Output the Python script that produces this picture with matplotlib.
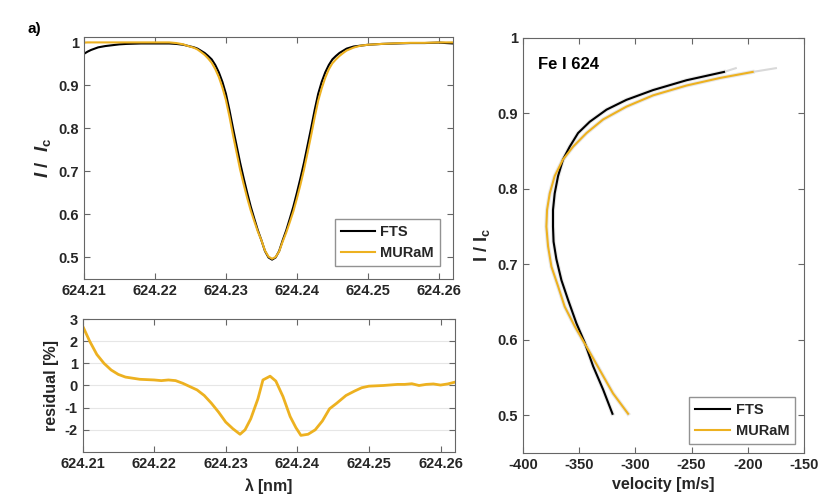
import numpy as np
import matplotlib
matplotlib.use("Agg")
import matplotlib.pyplot as plt
from matplotlib.ticker import FuncFormatter

plt.rcParams['font.family'] = ['Liberation Sans', 'DejaVu Sans']
plt.rcParams['font.weight'] = 'bold'
plt.rcParams['axes.labelweight'] = 'bold'
plt.rcParams['axes.unicode_minus'] = False
plt.rcParams['mathtext.fontset'] = 'custom'
plt.rcParams['mathtext.it'] = 'Liberation Sans:italic:bold'
plt.rcParams['mathtext.rm'] = 'Liberation Sans:bold'
plt.rcParams['mathtext.bf'] = 'Liberation Sans:bold'

# --- spectral line profile (normalised intensity) ---
wavelength = [624.210, 624.2105, 624.211, 624.2115, 624.212, 624.213, 624.214,
              624.215, 624.216, 624.217, 624.218, 624.220, 624.222, 624.223,
              624.224, 624.2245, 624.225, 624.2255, 624.226, 624.2265, 624.227,
              624.2275, 624.228, 624.2285, 624.229, 624.2295, 624.230, 624.2305,
              624.231, 624.2315, 624.232, 624.2325, 624.233, 624.2335, 624.234,
              624.2345, 624.235, 624.2355, 624.236, 624.2365, 624.237, 624.2375,
              624.238, 624.2385, 624.239, 624.2395, 624.240, 624.2405, 624.241,
              624.2415, 624.242, 624.2425, 624.243, 624.2435, 624.244, 624.2445,
              624.245, 624.2455, 624.246, 624.2465, 624.247, 624.248, 624.249,
              624.250, 624.252, 624.254, 624.256, 624.258, 624.260, 624.262]
fts_int = [0.973, 0.978, 0.982, 0.985, 0.988, 0.991, 0.993,
           0.995, 0.996, 0.9965, 0.997, 0.997, 0.997, 0.996,
           0.994, 0.992, 0.990, 0.988, 0.985, 0.980, 0.975,
           0.968, 0.960, 0.947, 0.930, 0.908, 0.880, 0.842,
           0.800, 0.760, 0.720, 0.684, 0.650, 0.618, 0.590,
           0.563, 0.540, 0.515, 0.500, 0.495, 0.500, 0.515,
           0.540, 0.563, 0.590, 0.618, 0.650, 0.684, 0.720,
           0.760, 0.800, 0.842, 0.880, 0.908, 0.930, 0.947,
           0.960, 0.968, 0.975, 0.980, 0.985, 0.990, 0.992,
           0.994, 0.996, 0.997, 0.998, 0.998, 0.999, 0.997]
muram_int = [0.999, 0.9995, 0.9995, 0.9995, 0.9995, 0.9995, 0.9995,
             0.9995, 0.9995, 0.9995, 0.9995, 0.9995, 0.9995, 0.998,
             0.995, 0.992, 0.9895, 0.987, 0.983, 0.977, 0.9706,
             0.962, 0.952, 0.9375, 0.919, 0.895, 0.8655, 0.827,
             0.784, 0.744, 0.704, 0.670, 0.638, 0.609, 0.584,
             0.560, 0.540, 0.516, 0.502, 0.497, 0.501, 0.514,
             0.537, 0.558, 0.582, 0.607, 0.637, 0.669, 0.704,
             0.743, 0.783, 0.825, 0.864, 0.893, 0.9175, 0.937,
             0.951, 0.960, 0.968, 0.9746, 0.9806, 0.9875, 0.992,
             0.994, 0.996, 0.9975, 0.9985, 0.9985, 0.9995, 0.9995]

# --- residual [%] ---
res_wl = [624.210, 624.211, 624.212, 624.213, 624.214, 624.215, 624.216,
          624.218, 624.220, 624.221, 624.222, 624.223, 624.224, 624.225,
          624.226, 624.227, 624.228, 624.229, 624.230, 624.231, 624.232,
          624.2327, 624.2335, 624.2345, 624.2352, 624.2362, 624.237,
          624.238, 624.239, 624.2398, 624.2405, 624.2415, 624.2425,
          624.2435, 624.2445, 624.2455, 624.2468, 624.248, 624.249,
          624.250, 624.252, 624.254, 624.255, 624.256, 624.257, 624.258,
          624.259, 624.260, 624.261, 624.262]
residual = [2.7, 2.0, 1.4, 1.0, 0.7, 0.5, 0.38,
            0.28, 0.25, 0.22, 0.25, 0.22, 0.1, -0.05,
            -0.2, -0.45, -0.8, -1.2, -1.65, -1.95, -2.2,
            -2.0, -1.5, -0.6, 0.25, 0.42, 0.2,
            -0.5, -1.4, -1.9, -2.25, -2.2, -2.0,
            -1.6, -1.05, -0.8, -0.45, -0.25, -0.1,
            -0.03, 0.0, 0.05, 0.05, 0.08, 0.0, 0.05,
            0.07, 0.02, 0.07, 0.15]

# --- line bisectors ---
fts_vel = [-320.4, -328.7, -337.6, -345.0, -352.5, -359.9, -365.8, -370.3,
           -372.8, -373.3, -373.3, -371.8, -368.8, -364.4, -358.4, -351.0,
           -340.6, -325.7, -308.0, -284.2, -254.5, -221.2]
fts_lev = [0.502, 0.534, 0.565, 0.596, 0.622, 0.653, 0.679, 0.707,
           0.730, 0.750, 0.772, 0.794, 0.817, 0.839, 0.856, 0.874,
           0.889, 0.905, 0.918, 0.931, 0.944, 0.955]
muram_vel = [-306.5, -319.9, -331.7, -343.5, -354.0, -362.9, -368.8, -374.7,
             -377.7, -379.2, -378.6, -376.2, -371.8, -364.4, -355.4, -343.5,
             -328.7, -308.0, -284.2, -254.5, -224.8, -195.7]
muram_lev = [0.502, 0.529, 0.560, 0.591, 0.618, 0.644, 0.671, 0.697,
             0.724, 0.750, 0.772, 0.794, 0.817, 0.839, 0.856, 0.874,
             0.892, 0.909, 0.924, 0.937, 0.947, 0.955]
fts_tail_vel = [-221.2, -210.7]
fts_tail_lev = [0.955, 0.960]
muram_tail_vel = [-195.7, -175.0]
muram_tail_lev = [0.955, 0.960]

wl_ticks = [624.21, 624.22, 624.23, 624.24, 624.25, 624.26]

gold = '#EDB120'
txt = '#262626'
spine = '#666666'


def style(ax):
    for s in ax.spines.values():
        s.set_color(spine)
        s.set_linewidth(0.8)
    ax.tick_params(direction='in', top=True, right=True, colors=spine,
                   labelcolor=txt, labelsize=10.5, length=4, width=0.8)


def clean(v, pos):
    return ('%g' % v)


fig = plt.figure(figsize=(8.3, 5.03), dpi=100)

# top-left: profiles
ax1 = fig.add_axes([0.1012, 0.4453, 0.4446, 0.4811])
ax1.plot(wavelength, fts_int, color='k', lw=1.5, label='FTS')
ax1.plot(wavelength, muram_int, color=gold, lw=1.5, label='MURaM')
ax1.set_xlim(624.21, 624.262)
ax1.set_ylim(0.45, 1.012)
ax1.set_xticks(wl_ticks)
ax1.set_xticklabels(['%.2f' % t for t in wl_ticks])
ax1.set_yticks([0.5, 0.6, 0.7, 0.8, 0.9, 1.0])
ax1.yaxis.set_major_formatter(FuncFormatter(clean))
ax1.set_ylabel(r'$\it{I}$ /  $\it{I}_{\rm c}$', fontsize=13.5, color=txt)
style(ax1)
leg = ax1.legend(loc='lower right', fontsize=10.5, fancybox=False,
                 edgecolor='#777777', handlelength=2.3, handletextpad=0.4,
                 borderaxespad=0.9)
for t in leg.get_texts():
    t.set_color(txt)

# bottom-left: residual
ax2 = fig.add_axes([0.0994, 0.1014, 0.4486, 0.2644])
ax2.plot(res_wl, residual, color=gold, lw=2)
ax2.set_xlim(624.21, 624.262)
ax2.set_ylim(-3, 3)
ax2.set_xticks(wl_ticks)
ax2.set_xticklabels(['%.2f' % t for t in wl_ticks])
ax2.set_yticks([-2, -1, 0, 1, 2, 3])
ax2.grid(axis='y', color='#e6e6e6', lw=0.8)
ax2.set_axisbelow(True)
ax2.set_ylabel('residual [%]', fontsize=11.5, color=txt)
ax2.set_xlabel(r'$\mathbf{\lambda}$ [nm]', fontsize=11.5, color=txt)
style(ax2)

# right: bisectors
ax3 = fig.add_axes([0.6301, 0.0994, 0.3386, 0.8251])
ax3.plot(fts_vel, fts_lev, color='#d9d9d9', lw=3, alpha=0.6)
ax3.plot(muram_vel, muram_lev, color='#d9d9d9', lw=3, alpha=0.6)
ax3.plot(fts_tail_vel, fts_tail_lev, color='#d9d9d9', lw=1.5)
ax3.plot(muram_tail_vel, muram_tail_lev, color='#d9d9d9', lw=1.5)
ax3.plot(fts_vel, fts_lev, color='k', lw=1.5, label='FTS')
ax3.plot(muram_vel, muram_lev, color=gold, lw=1.5, label='MURaM')
ax3.set_xlim(-400, -150)
ax3.set_ylim(0.45, 1.0)
ax3.set_xticks([-400, -350, -300, -250, -200, -150])
ax3.set_yticks([0.5, 0.6, 0.7, 0.8, 0.9, 1.0])
ax3.yaxis.set_major_formatter(FuncFormatter(clean))
ax3.set_xlabel('velocity [m/s]', fontsize=11.5, color=txt)
ax3.set_ylabel(r'I / I$_{\rm c}$', fontsize=13, color=txt)
ax3.text(0.053, 0.935, 'Fe I 624', transform=ax3.transAxes, fontsize=12,
         fontweight='bold', va='center', color='k')
style(ax3)
leg3 = ax3.legend(loc='lower right', fontsize=10.5, fancybox=False,
                  edgecolor='#777777', handlelength=2.4, handletextpad=0.4,
                  borderaxespad=0.6)
for t in leg3.get_texts():
    t.set_color(txt)

fig.text(0.033, 0.942, 'a)', fontsize=11, fontweight='bold', va='center')

fig.savefig('out.png', dpi=100)
